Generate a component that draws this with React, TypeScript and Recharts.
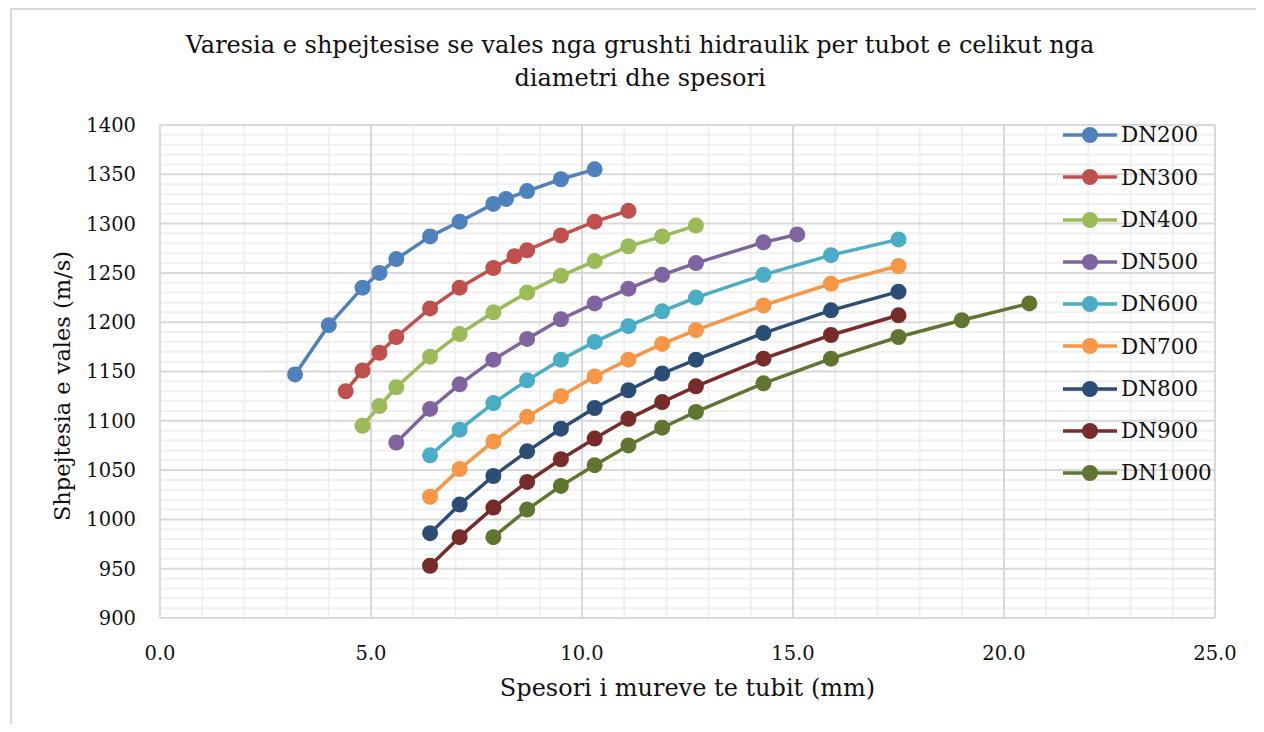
import React from 'react';
import { LineChart, Line, XAxis, YAxis, CartesianGrid, Legend } from 'recharts';

// Wall thickness sets (mm)
const thkA = [3.2, 4.0, 4.8, 5.2, 5.6, 6.4, 7.1, 7.9, 8.2, 8.7, 9.5, 10.3];
const thkB = [4.4, 4.8, 5.2, 5.6, 6.4, 7.1, 7.9, 8.4, 8.7, 9.5, 10.3, 11.1];
const thkC = [4.8, 5.2, 5.6, 6.4, 7.1, 7.9, 8.7, 9.5, 10.3, 11.1, 11.9, 12.7];
const thkD = [5.6, 6.4, 7.1, 7.9, 8.7, 9.5, 10.3, 11.1, 11.9, 12.7, 14.3, 15.1];
const thkE = [6.4, 7.1, 7.9, 8.7, 9.5, 10.3, 11.1, 11.9, 12.7, 14.3, 15.9, 17.5];
const thkF = [7.9, 8.7, 9.5, 10.3, 11.1, 11.9, 12.7, 14.3, 15.9, 17.5, 19.0, 20.6];

// Wave speed (m/s) per pipe diameter
const dn200 = [1147, 1197, 1235, 1250, 1264, 1287, 1302, 1320, 1325, 1333, 1345, 1355];
const dn300 = [1130, 1151, 1169, 1185, 1214, 1235, 1255, 1267, 1273, 1288, 1302, 1313];
const dn400 = [1095, 1115, 1134, 1165, 1188, 1210, 1230, 1247, 1262, 1277, 1287, 1298];
const dn500 = [1078, 1112, 1137, 1162, 1183, 1203, 1219, 1234, 1248, 1260, 1281, 1289];
const dn600 = [1065, 1091, 1118, 1141, 1162, 1180, 1196, 1211, 1225, 1248, 1268, 1284];
const dn700 = [1023, 1051, 1079, 1104, 1125, 1145, 1162, 1178, 1192, 1217, 1239, 1257];
const dn800 = [986, 1015, 1044, 1069, 1092, 1113, 1131, 1148, 1162, 1189, 1212, 1231];
const dn900 = [953, 982, 1012, 1038, 1061, 1082, 1102, 1119, 1135, 1163, 1187, 1207];
const dn1000 = [982, 1010, 1034, 1055, 1075, 1093, 1109, 1138, 1163, 1185, 1202, 1219];

const seriesNames = ['DN200', 'DN300', 'DN400', 'DN500', 'DN600', 'DN700', 'DN800', 'DN900', 'DN1000'];
const seriesColors = ['#4f81bd', '#c0504d', '#9bbb59', '#8064a2', '#4bacc6', '#f79646', '#2c4d75', '#772c2a', '#5f7530'];
const seriesX = [thkA, thkB, thkC, thkD, thkE, thkE, thkE, thkE, thkF];
const seriesY = [dn200, dn300, dn400, dn500, dn600, dn700, dn800, dn900, dn1000];

const xTicks = [0, 5, 10, 15, 20, 25];
const yTicks = [900, 950, 1000, 1050, 1100, 1150, 1200, 1250, 1300, 1350, 1400];
const xMinor = [1, 2, 3, 4, 6, 7, 8, 9, 11, 12, 13, 14, 16, 17, 18, 19, 21, 22, 23, 24];
const yMinor = yTicks.slice(0, -1).flatMap((t) => [t + 10, t + 20, t + 30, t + 40]);

const series = seriesNames.map((name, i) => ({
  name,
  color: seriesColors[i],
  data: seriesX[i].map((x, j) => ({ x, y: seriesY[i][j] })),
}));

const FONT = '"DejaVu Serif", serif';
const TEXT = '#111';

const scaleOf = (axis: any) => {
  const s = axis && axis.scale;
  if (typeof s === 'function') return (v: number) => s(v);
  if (s && typeof s.map === 'function') return (v: number) => s.map(v);
  return null;
};

const LegendBox = () => (
  <div style={{ fontFamily: FONT, fontSize: 21.5, color: TEXT }}>
    {series.map((s) => (
      <div key={s.name} style={{ height: 42.25, display: 'flex', alignItems: 'center' }}>
        <svg width={58} height={20} style={{ display: 'block' }}>
          <line x1={0} y1={10} x2={54} y2={10} stroke={s.color} strokeWidth={3.5} />
          <circle cx={27} cy={10} r={8} fill={s.color} />
        </svg>
        <span style={{ lineHeight: 1 }}>{s.name}</span>
      </div>
    ))}
  </div>
);

export default function App() {
  return (
    <div style={{ position: 'relative', width: 1248, height: 716, background: '#fff' }}>
      <div
        style={{
          position: 'absolute', left: 2, top: 0, width: 1260, height: 730,
          borderTop: '2px solid #d9d9d9', borderLeft: '2px solid #d9d9d9', boxSizing: 'border-box',
        }}
      />
      <div
        style={{
          position: 'absolute', left: 0, top: 21, width: 1264, textAlign: 'center',
          fontFamily: FONT, fontSize: 24, lineHeight: '33px', color: TEXT,
        }}
      >
        Varesia e shpejtesise se vales nga grushti hidraulik per tubot e celikut nga
        <br />
        diametri dhe spesori
      </div>
      <LineChart
        width={1248}
        height={716}
        margin={{ top: 117, right: 41, bottom: 46, left: 52 }}
      >
        <CartesianGrid
          stroke="#f0f0f0"
          strokeWidth={2}
          horizontalCoordinatesGenerator={({ yAxis }: any) => {
            const f = scaleOf(yAxis);
            return f ? yMinor.map(f) : [];
          }}
          verticalCoordinatesGenerator={({ xAxis }: any) => {
            const f = scaleOf(xAxis);
            return f ? xMinor.map(f) : [];
          }}
        />
        <CartesianGrid stroke="#d9d9d9" strokeWidth={2} />
        <XAxis
          type="number"
          dataKey="x"
          domain={[0, 25]}
          ticks={xTicks}
          interval={0}
          height={60}
          tickFormatter={(v: number) => v.toFixed(1)}
          tick={{ fontFamily: FONT, fontSize: 19.5, fill: TEXT }}
          tickLine={false}
          tickSize={0}
          tickMargin={28}
          axisLine={{ stroke: '#d9d9d9', strokeWidth: 2 }}
        />
        <YAxis
          type="number"
          dataKey="y"
          domain={[900, 1400]}
          ticks={yTicks}
          interval={0}
          width={100}
          tick={{ fontFamily: FONT, fontSize: 19.5, fill: TEXT }}
          tickLine={false}
          tickSize={0}
          tickMargin={24}
          axisLine={{ stroke: '#d9d9d9', strokeWidth: 2 }}
        />
        <Legend
          layout="vertical"
          align="center"
          verticalAlign="middle"
          wrapperStyle={{ position: 'absolute', left: 1055, top: 106, width: 170 }}
          content={() => <LegendBox />}
        />
        {series.map((s) => (
          <Line
            key={s.name}
            name={s.name}
            data={s.data}
            dataKey="y"
            type="linear"
            stroke={s.color}
            strokeWidth={3.5}
            dot={{ r: 8, fill: s.color, stroke: s.color, strokeWidth: 0 }}
            activeDot={false}
            isAnimationActive={false}
          />
        ))}
      </LineChart>
      <div
        style={{
          position: 'absolute', left: 152, width: 1055, top: 665, textAlign: 'center',
          fontFamily: FONT, fontSize: 24, color: TEXT, lineHeight: '30px',
        }}
      >
        Spesori i mureve te tubit (mm)
      </div>
      <div
        style={{
          position: 'absolute', left: 54, top: 378, width: 0, height: 0,
        }}
      >
        <div
          style={{
            position: 'absolute', left: 0, top: 0, transform: 'translate(-50%, -50%) rotate(-90deg)',
            whiteSpace: 'nowrap', fontFamily: FONT, fontSize: 22.5, color: TEXT, lineHeight: '30px',
          }}
        >
          Shpejtesia e vales (m/s)
        </div>
      </div>
    </div>
  );
}
